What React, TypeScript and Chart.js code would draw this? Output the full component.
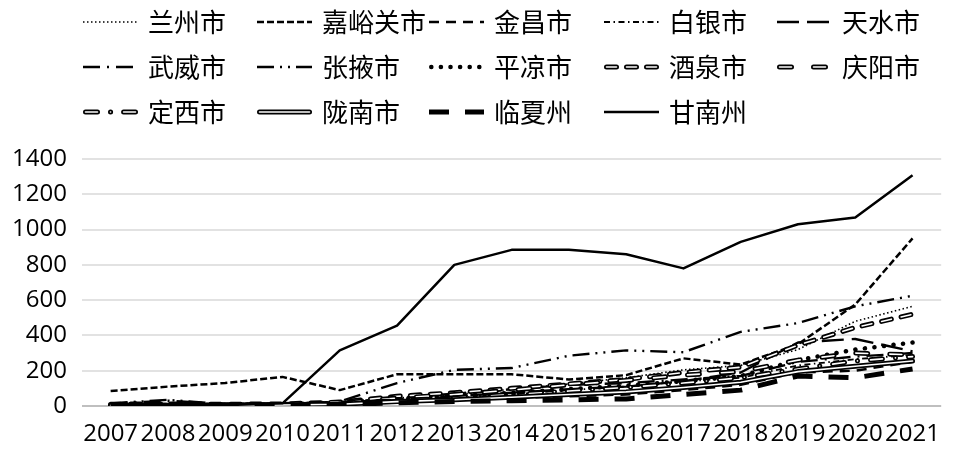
import React, { useEffect, useRef } from "react";
import { Chart, registerables } from "chart.js";

Chart.register(...registerables);

// ---------------- data ----------------
const years = ["2007", "2008", "2009", "2010", "2011", "2012", "2013", "2014", "2015", "2016", "2017", "2018", "2019", "2020", "2021"];
const yTicks = [0, 200, 400, 600, 800, 1000, 1200, 1400];
const yTickLabels = ["0", "200", "400", "600", "800", "1000", "1200", "1400"];

const seriesNames = ["兰州市", "嘉峪关市", "金昌市", "白银市", "天水市", "武威市", "张掖市", "平凉市", "酒泉市", "庆阳市", "定西市", "陇南市", "临夏州", "甘南州"];

const lanzhou = [10, 12, 14, 16, 25, 45, 65, 95, 125, 160, 205, 230, 320, 480, 565];
const jiayuguan = [85, 110, 130, 165, 90, 180, 180, 180, 150, 175, 270, 235, 350, 575, 950];
const jinchang = [5, 5, 6, 8, 12, 25, 35, 45, 55, 65, 90, 120, 190, 200, 250];
const baiyin = [8, 10, 8, 10, 15, 30, 45, 65, 90, 110, 140, 160, 230, 265, 290];
const tianshui = [6, 8, 6, 8, 18, 40, 55, 75, 95, 110, 140, 190, 360, 380, 310];
const wuwei = [12, 30, 10, 8, 20, 45, 70, 95, 120, 130, 150, 170, 250, 280, 300];
const zhangye = [15, 35, 10, 10, 25, 130, 205, 215, 285, 315, 305, 420, 470, 565, 625];
const pingliang = [5, 6, 6, 8, 15, 35, 55, 75, 95, 115, 140, 170, 260, 320, 360];
const jiuquan = [10, 12, 10, 12, 22, 55, 75, 100, 125, 150, 190, 220, 345, 445, 520];
const qingyang = [6, 7, 6, 8, 16, 45, 65, 90, 120, 145, 175, 195, 260, 300, 290];
const dingxi = [4, 5, 5, 7, 12, 30, 45, 65, 85, 105, 130, 160, 210, 255, 280];
const longnan = [4, 4, 5, 6, 10, 25, 35, 50, 65, 80, 105, 135, 195, 225, 255];
const linxia = [3, 4, 4, 5, 8, 18, 25, 30, 35, 40, 65, 90, 170, 160, 210];
const gannan = [5, 5, 5, 15, 315, 455, 800, 885, 885, 860, 780, 930, 1030, 1068, 1308];

const seriesData = [lanzhou, jiayuguan, jinchang, baiyin, tianshui, wuwei, zhangye, pingliang, jiuquan, qingyang, dingxi, longnan, linxia, gannan];

// ---------------- styles ----------------
type LineStyle = { width: number; dash: number[]; cap: CanvasLineCap; inner?: number };
const lineStyles: LineStyle[] = [
  { width: 1.6, dash: [1.5, 2.5], cap: "butt" }, // 兰州 round dot
  { width: 2.5, dash: [7, 3], cap: "butt" }, // 嘉峪关 square dash
  { width: 2.4, dash: [10, 7], cap: "butt" }, // 金昌 dash
  { width: 1.8, dash: [6, 3.5, 1.5, 3.5], cap: "butt" }, // 白银 dash dot
  { width: 2.4, dash: [22, 8], cap: "butt" }, // 天水 long dash
  { width: 2.4, dash: [17, 7, 2, 7], cap: "butt" }, // 武威 long dash dot
  { width: 2.4, dash: [17, 6, 2, 6, 2, 6], cap: "butt" }, // 张掖 long dash dot dot
  { width: 4.5, dash: [0.1, 9.5], cap: "round" }, // 平凉 thick round dot
  { width: 5, dash: [10, 10], cap: "round", inner: 1.6 }, // 酒泉 double short dash
  { width: 5, dash: [12, 22], cap: "round", inner: 1.6 }, // 庆阳 double long dash
  { width: 5, dash: [12, 13, 0.1, 13], cap: "round", inner: 1.6 }, // 定西 double long dash dot
  { width: 5, dash: [], cap: "round", inner: 1.6 }, // 陇南 double solid
  { width: 5, dash: [20, 16], cap: "butt" }, // 临夏 thick long dash
  { width: 2.5, dash: [], cap: "butt" }, // 甘南 solid
];

const FONT = "'Noto Sans CJK SC', 'Noto Sans', sans-serif";
const NUM_FONT = "'Open Sans', 'Noto Sans', sans-serif";
const LEG_COL_X = [83, 257, 429, 604, 777];
const LEG_ROW_Y = [22, 67, 112];
const LEG_SAMPLE = 55;
const LEG_TEXT_OFF = 65;

function drawSample(ctx: CanvasRenderingContext2D, x0: number, x1: number, y: number, st: LineStyle) {
  const pad = st.cap === "round" ? st.width / 2 : 0;
  const passes: { w: number; c: string }[] = [{ w: st.width, c: "#000" }];
  if (st.inner) passes.push({ w: st.inner, c: "#fff" });
  passes.forEach((p) => {
    ctx.beginPath();
    ctx.setLineDash(st.dash);
    ctx.lineDashOffset = 0;
    ctx.lineCap = st.cap;
    ctx.lineWidth = p.w;
    ctx.strokeStyle = p.c;
    ctx.moveTo(x0 + pad, y);
    ctx.lineTo(x1 - pad, y);
    ctx.stroke();
  });
  ctx.setLineDash([]);
}

const gridLegend = {
  id: "gridLegend",
  afterDraw(chart: any) {
    const ctx: CanvasRenderingContext2D = chart.ctx;
    ctx.save();
    seriesNames.forEach((name, i) => {
      const row = Math.floor(i / 5);
      const col = i % 5;
      const x0 = LEG_COL_X[col];
      const y = LEG_ROW_Y[row];
      drawSample(ctx, x0, x0 + LEG_SAMPLE, y, lineStyles[i]);
      ctx.fillStyle = "#000";
      ctx.font = `26px ${FONT}`;
      ctx.textBaseline = "middle";
      ctx.textAlign = "left";
      ctx.fillText(name, x0 + LEG_TEXT_OFF, y);
    });
    ctx.restore();
  },
};

export default function App() {
  const canvasRef = useRef<HTMLCanvasElement | null>(null);

  useEffect(() => {
    document.body.style.margin = "0";
    const canvas = canvasRef.current;
    if (!canvas) return;

    const datasets: any[] = [];
    seriesData.forEach((d, i) => {
      const st = lineStyles[i];
      const baseOrder = (seriesData.length - 1 - i) * 2;
      datasets.push({
        label: seriesNames[i],
        data: d,
        borderColor: "#000",
        backgroundColor: "#000",
        borderWidth: st.width,
        borderDash: st.dash,
        borderCapStyle: st.cap,
        borderJoinStyle: "round",
        pointRadius: 0,
        pointHoverRadius: 0,
        tension: 0,
        fill: false,
        order: baseOrder + 1,
      });
      if (st.inner) {
        datasets.push({
          label: seriesNames[i] + "_inner",
          data: d,
          borderColor: "#fff",
          backgroundColor: "#fff",
          borderWidth: st.inner,
          borderDash: st.dash,
          borderCapStyle: st.cap,
          borderJoinStyle: "round",
          pointRadius: 0,
          pointHoverRadius: 0,
          tension: 0,
          fill: false,
          order: baseOrder,
        });
      }
    });

    const chart = new Chart(canvas, {
      type: "line",
      data: { labels: years, datasets },
      options: {
        responsive: false,
        animation: false,
        events: [],
        layout: { padding: { top: 159, left: 0, right: 0, bottom: 0 } },
        plugins: { legend: { display: false }, tooltip: { enabled: false } },
        scales: {
          x: {
            type: "category",
            offset: true,
            grid: { display: false, drawTicks: false },
            border: { display: false },
            ticks: {
              autoSkip: false,
              maxRotation: 0,
              minRotation: 0,
              padding: 14,
              color: "#000",
              font: { family: NUM_FONT, size: 24 },
            },
            afterFit: (s: any) => {
              s.height = 44;
            },
          },
          y: {
            min: 0,
            max: 1400,
            afterBuildTicks: (s: any) => {
              s.ticks = yTicks.map((v) => ({ value: v }));
            },
            ticks: {
              padding: 15,
              color: "#000",
              font: { family: NUM_FONT, size: 24 },
              callback: (v: any) => {
                const idx = yTicks.indexOf(Number(v));
                return idx >= 0 ? yTickLabels[idx] : String(v);
              },
            },
            grid: {
              color: (c: any) => (c.tick && c.tick.value === 0 ? "#bfbfbf" : "#e2e2e2"),
              lineWidth: 2,
              drawTicks: false,
            },
            border: { display: false },
            afterFit: (s: any) => {
              s.width = 82;
            },
          },
        },
      },
      plugins: [gridLegend],
    });

    return () => chart.destroy();
  }, []);

  return (
    <div style={{ width: 954, height: 450, background: "#fff" }}>
      <canvas ref={canvasRef} width={954} height={450} style={{ display: "block", width: 954, height: 450 }} />
    </div>
  );
}
